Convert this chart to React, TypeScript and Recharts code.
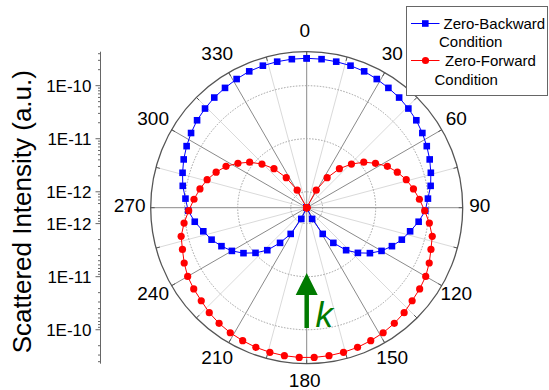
import {
  RadarChart,
  Radar,
  PolarGrid,
  PolarAngleAxis,
  PolarRadiusAxis,
  Legend,
  LineChart,
  XAxis,
  YAxis,
} from 'recharts';

// intensities, one every 360/63 degrees, clockwise from 0
const BACKWARD = [
  3.28e-10, 3.26e-10, 3.22e-10, 3.17e-10, 3.08e-10, 2.89e-10, 2.71e-10, 2.57e-10,
  2.38e-10, 2.2e-10, 1.97e-10, 1.75e-10, 1.55e-10, 1.35e-10, 1.18e-10, 9.8e-11,
  8.6e-11, 6.7e-11, 5.0e-11, 3.9e-11, 2.9e-11, 2.13e-11, 1.47e-11, 9.7e-12,
  6.2e-12, 3.4e-12, 1.9e-12, 8.6e-13, 3.0e-13, 6.0e-14, 4.0e-15, 1.0e-17,
  1.0e-17, 4.0e-15, 6.0e-14, 3.0e-13, 8.6e-13, 1.9e-12, 3.4e-12, 6.2e-12,
  9.7e-12, 1.47e-11, 2.13e-11, 2.9e-11, 3.9e-11, 5.0e-11, 6.7e-11, 8.6e-11,
  9.8e-11, 1.18e-10, 1.35e-10, 1.55e-10, 1.75e-10, 1.97e-10, 2.2e-10, 2.38e-10,
  2.57e-10, 2.71e-10, 2.89e-10, 3.08e-10, 3.17e-10, 3.22e-10, 3.26e-10,
];

const FORWARD = [
  1.0e-17, 2.0e-15, 3.0e-14, 1.5e-13, 4.6e-13, 1.19e-12, 2.42e-12, 4.56e-12,
  7.55e-12, 1.19e-11, 1.75e-11, 2.56e-11, 3.42e-11, 4.46e-11, 5.53e-11, 6.76e-11,
  8.4e-11, 1.07e-10, 1.34e-10, 1.48e-10, 1.71e-10, 1.95e-10, 2.1e-10, 2.24e-10,
  2.51e-10, 2.72e-10, 2.9e-10, 3.03e-10, 3.17e-10, 3.25e-10, 3.32e-10, 3.35e-10,
  3.35e-10, 3.32e-10, 3.25e-10, 3.17e-10, 3.03e-10, 2.9e-10, 2.72e-10, 2.51e-10,
  2.24e-10, 2.1e-10, 1.95e-10, 1.71e-10, 1.48e-10, 1.34e-10, 1.07e-10, 8.4e-11,
  6.76e-11, 5.53e-11, 4.46e-11, 3.42e-11, 2.56e-11, 1.75e-11, 1.19e-11, 7.55e-12,
  4.56e-12, 2.42e-12, 1.19e-12, 4.6e-13, 1.5e-13, 3.0e-14, 2.0e-15,
];

const SERIES_NAMES = ['Zero-Backward Condition', 'Zero-Forward Condition'];
const SERIES_COLORS = ['#0000ff', '#ff0000'];

const ANGLE_TICKS = [
  0, 15, 30, 45, 60, 75, 90, 105, 120, 135, 150, 165,
  180, 195, 210, 225, 240, 255, 270, 285, 300, 315, 330, 345,
];
const MAJOR_ANGLES = ANGLE_TICKS.filter((a) => a % 30 === 0);
const MINOR_ANGLES = ANGLE_TICKS.filter((a) => a % 30 !== 0);
const DECADES = [-12, -11, -10];
const DECADE_LABELS = ['1E-12', '1E-11', '1E-10'];
const Y_TITLE = 'Scattered Intensity (a.u.)';

// radial axis: log10 intensity from LOG_MIN (centre) to LOG_MAX (rim)
const LOG_MIN = -12.3;
const LOG_MAX = -9.36;
const SPAN = LOG_MAX - LOG_MIN;

const W = 549;
const H = 390;
const CX = 306.7;
const CY = 207.7;
const R = 156;
const LABEL_R = 175;
const FONT = '"Liberation Sans", Arial, Helvetica, sans-serif';
const GREEN = '#007a00';

// radius as percent of the rim, values below the axis sit at the centre
const toRadial = (v: number) => ((Math.max(Math.log10(v), LOG_MIN) - LOG_MIN) / SPAN) * 100;

const N = BACKWARD.length;
const rows = [...BACKWARD, BACKWARD[0]].map((v, i) => ({
  deg: (i * 360) / N,
  backward: toRadial(v),
  forward: toRadial(FORWARD[i % N]),
}));

const gridTicks = DECADES.map((d) => ((d - LOG_MIN) / SPAN) * 100);

// mirrored log axis on the left: distance from the centre in decades
const majorTicks = DECADES.flatMap((d) => [d - LOG_MIN, -(d - LOG_MIN)]);
const minorTicks: number[] = [];
[-13, -12, -11, -10].forEach((d) => {
  for (let m = 2; m <= 9; m++) {
    const t = d + Math.log10(m) - LOG_MIN;
    if (t > 0 && t <= SPAN) minorTicks.push(t, -t);
  }
});
const yTicks = [...majorTicks, ...minorTicks].sort((a, b) => a - b);

const decadeLabel = (t: number) => {
  const i = DECADES.findIndex((d) => Math.abs(Math.abs(t) - (d - LOG_MIN)) < 1e-6);
  return i >= 0 ? DECADE_LABELS[i] : null;
};

function LogTick(props: any) {
  const { x, y, payload } = props;
  const label = decadeLabel(payload.value);
  return (
    <g>
      <line x1={x} x2={x - (label ? 5 : 2.5)} y1={y} y2={y} stroke="#666" />
      {label && (
        <text x={x - 9} y={y} dy="0.36em" textAnchor="end" fontSize={17} fontFamily={FONT} fill="#000">
          {label}
        </text>
      )}
    </g>
  );
}

function YTitle(props: any) {
  const vb = props.viewBox || { y: 0, height: H };
  const y = vb.y + vb.height / 2 + 4;
  return (
    <text
      x={0}
      y={0}
      transform={`translate(31,${y}) rotate(-90)`}
      textAnchor="middle"
      fontSize={26}
      fontFamily={FONT}
      fill="#000"
    >
      {Y_TITLE}
    </text>
  );
}

function AngleTick(props: any) {
  const { x, y, payload } = props;
  if (payload.value % 30 !== 0) return null;
  const dx = x - CX;
  const dy = y - CY;
  const d = Math.hypot(dx, dy) || 1;
  return (
    <text
      x={CX - 2 + (dx / d) * LABEL_R}
      y={CY - 2.5 + (dy / d) * LABEL_R}
      dy="0.36em"
      textAnchor="middle"
      fontSize={19}
      fontFamily={FONT}
      fill="#000"
    >
      {payload.value}
    </text>
  );
}

const squareDot = (p: any) => (
  <rect key={`b-${p.index}`} x={p.cx - 3.3} y={p.cy - 3.3} width={6.6} height={6.6} fill={SERIES_COLORS[0]} />
);
const circleDot = (p: any) => (
  <circle key={`r-${p.index}`} cx={p.cx} cy={p.cy} r={3.6} fill={SERIES_COLORS[1]} />
);

// legend rows: sample line y, first/second text line x, second line y
const LEGEND_ROWS = [
  { y: 17.5, x1: 37.5, x2: 33, y2: 36 },
  { y: 54.5, x1: 39, x2: 28.5, y2: 73.5 },
];

function LegendBox() {
  return (
    <svg width={142} height={90} style={{ display: 'block' }}>
      <rect x={0.5} y={0.5} width={141} height={89} fill="#fff" stroke="#666" />
      {SERIES_NAMES.map((name, i) => {
        const row = LEGEND_ROWS[i];
        const cut = name.lastIndexOf(' ');
        const color = SERIES_COLORS[i];
        return (
          <g key={name}>
            <line x1={5} x2={33.5} y1={row.y} y2={row.y} stroke={color} />
            {i === 0 ? (
              <rect x={16} y={row.y - 3.3} width={6.6} height={6.6} fill={color} />
            ) : (
              <circle cx={19.5} cy={row.y} r={3.6} fill={color} />
            )}
            <text x={row.x1} y={row.y} dy="0.36em" fontSize={15} fontFamily={FONT} fill="#000">
              {name.slice(0, cut)}
            </text>
            <text x={row.x2} y={row.y2} dy="0.36em" fontSize={15} fontFamily={FONT} fill="#000">
              {name.slice(cut + 1)}
            </text>
          </g>
        );
      })}
    </svg>
  );
}

export default function App() {
  return (
    <div style={{ position: 'absolute', left: 0, top: 0, width: W, height: H, background: '#fff' }}>
      <div style={{ position: 'absolute', left: 0, top: 0 }}>
        <LineChart
          width={112}
          height={H}
          data={[{ x: 0 }]}
          margin={{ top: CY - R, bottom: H - (CY + R), left: 0, right: 0 }}
        >
          <XAxis dataKey="x" hide />
          <YAxis
            type="number"
            domain={[-SPAN, SPAN]}
            ticks={yTicks}
            interval={0}
            allowDataOverflow
            width={100.5}
            tickSize={0}
            tickMargin={0}
            tickLine={false}
            axisLine={{ stroke: '#666' }}
            tick={<LogTick />}
            label={{ value: Y_TITLE, content: <YTitle /> }}
          />
        </LineChart>
      </div>
      <div style={{ position: 'absolute', left: 0, top: 0 }}>
        <RadarChart
          width={W}
          height={H}
          data={rows}
          cx={CX}
          cy={CY}
          outerRadius={R}
          margin={{ top: 0, right: 0, bottom: 0, left: 0 }}
        >
          <PolarGrid gridType="circle" polarAngles={MINOR_ANGLES} polarRadius={[]} stroke="#dadada" />
          <PolarGrid gridType="circle" polarAngles={MAJOR_ANGLES} polarRadius={[]} stroke="#8a8a8a" />
          <PolarGrid gridType="circle" radialLines={false} stroke="#a0a0a0" strokeDasharray="1.5 1.5" />
          <PolarRadiusAxis
            type="number"
            domain={[0, 100]}
            ticks={gridTicks}
            allowDataOverflow
            tick={false}
            axisLine={false}
            tickLine={false}
          />
          <PolarAngleAxis
            dataKey="deg"
            type="number"
            domain={[0, 360]}
            ticks={ANGLE_TICKS}
            allowDataOverflow
            axisLineType="circle"
            axisLine={{ stroke: '#555', strokeWidth: 1.3 }}
            orientation="inner"
            tickLine={{ stroke: '#555' }}
            tickSize={4}
            tick={<AngleTick />}
          />
          <Radar
            name={SERIES_NAMES[0]}
            dataKey="backward"
            stroke={SERIES_COLORS[0]}
            strokeWidth={1}
            fill="none"
            fillOpacity={0}
            dot={squareDot}
            isAnimationActive={false}
          />
          <Radar
            name={SERIES_NAMES[1]}
            dataKey="forward"
            stroke={SERIES_COLORS[1]}
            strokeWidth={1}
            fill="none"
            fillOpacity={0}
            dot={circleDot}
            isAnimationActive={false}
          />
          <Legend
            content={<LegendBox />}
            wrapperStyle={{ position: 'absolute', left: 406, top: 6, width: 142, height: 90 }}
          />
          <g>
            <line x1={CX} x2={CX} y1={328} y2={292} stroke={GREEN} strokeWidth={4.5} />
            <polygon points={`${CX - 11},295 ${CX + 11},295 ${CX},273`} fill={GREEN} />
            <text x={315.5} y={326.5} fontSize={35} fontStyle="italic" fontFamily={FONT} fill={GREEN}>
              k
            </text>
          </g>
        </RadarChart>
      </div>
    </div>
  );
}
